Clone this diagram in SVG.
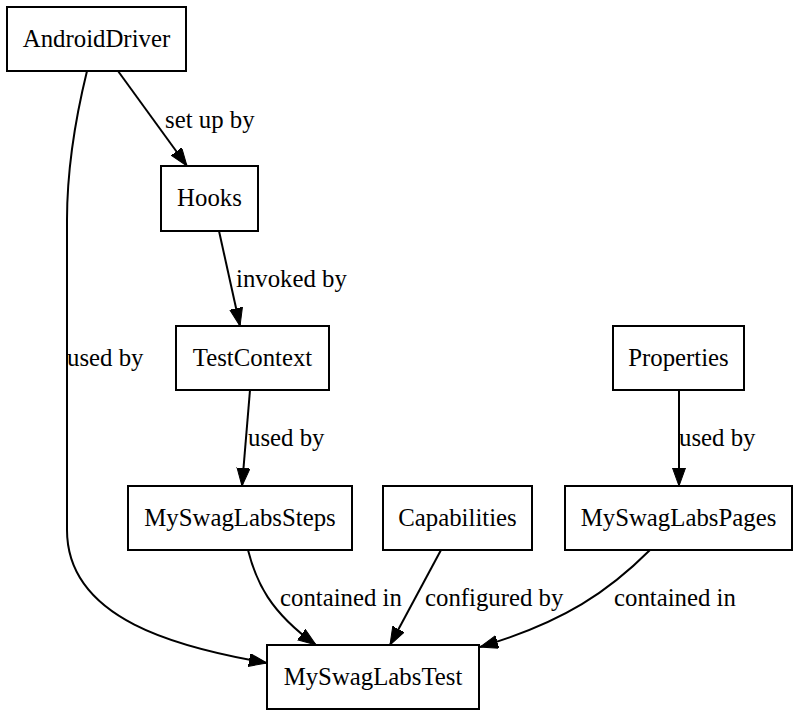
<svg xmlns="http://www.w3.org/2000/svg" width="800" height="717" viewBox="0 0 800 717">
<style>
.n{fill:#fff;stroke:#000;stroke-width:2}
text{font-family:'Liberation Serif',Tinos,'Times New Roman',Times,serif;font-size:24.8px;fill:#000}
.t{text-anchor:middle}
.e{fill:none;stroke:#000;stroke-width:2}
</style>
<defs>
<marker id="ah" markerUnits="userSpaceOnUse" markerWidth="20" markerHeight="14" refX="18" refY="6.5" orient="auto">
<path d="M0,0 L18,6.5 L0,13 z" fill="#000" stroke="#000" stroke-width="1"/>
</marker>
</defs>
<rect width="800" height="717" fill="#fff"/>
<g id="connectors">
<path class="e" marker-end="url(#ah)" d="M118,71 L187,166"/>
<path class="e" marker-end="url(#ah)" d="M87,71 C75,120 67,170 67,220 L67,530 C67,620 180,648 267,663"/>
<path class="e" marker-end="url(#ah)" d="M219,231 L240,326"/>
<path class="e" marker-end="url(#ah)" d="M250,390 L242,486"/>
<path class="e" marker-end="url(#ah)" d="M679,390 L679,486"/>
<path class="e" marker-end="url(#ah)" d="M248,550 C256,582 270,612 316,645"/>
<path class="e" marker-end="url(#ah)" d="M441,550 L390,645"/>
<path class="e" marker-end="url(#ah)" d="M650,550 C610,590 565,622 480,647"/>
<text x="165" y="128">set up by</text>
<text x="67" y="366">used by</text>
<text x="236" y="287">invoked by</text>
<text x="248" y="446">used by</text>
<text x="679" y="446">used by</text>
<text x="280" y="606">contained in</text>
<text x="425" y="606">configured by</text>
<text x="614" y="606">contained in</text>
</g>
<g id="AndroidDriver"><rect class="n" x="7" y="7" width="179" height="64"/><text class="t" x="96.5" y="47">AndroidDriver</text></g>
<g id="Hooks"><rect class="n" x="161" y="166" width="97" height="65"/><text class="t" x="209.5" y="206">Hooks</text></g>
<g id="TestContext"><rect class="n" x="176" y="326" width="153" height="64"/><text class="t" x="252.5" y="366">TestContext</text></g>
<g id="Properties"><rect class="n" x="613" y="326" width="131" height="64"/><text class="t" x="678.5" y="366">Properties</text></g>
<g id="MySwagLabsSteps"><rect class="n" x="128" y="486" width="224" height="64"/><text class="t" x="240" y="526">MySwagLabsSteps</text></g>
<g id="Capabilities"><rect class="n" x="383" y="486" width="149" height="64"/><text class="t" x="457.5" y="526">Capabilities</text></g>
<g id="MySwagLabsPages"><rect class="n" x="565" y="486" width="227" height="64"/><text class="t" x="678.5" y="526">MySwagLabsPages</text></g>
<g id="MySwagLabsTest"><rect class="n" x="267" y="645" width="212" height="64"/><text class="t" x="373" y="685">MySwagLabsTest</text></g>
</svg>
